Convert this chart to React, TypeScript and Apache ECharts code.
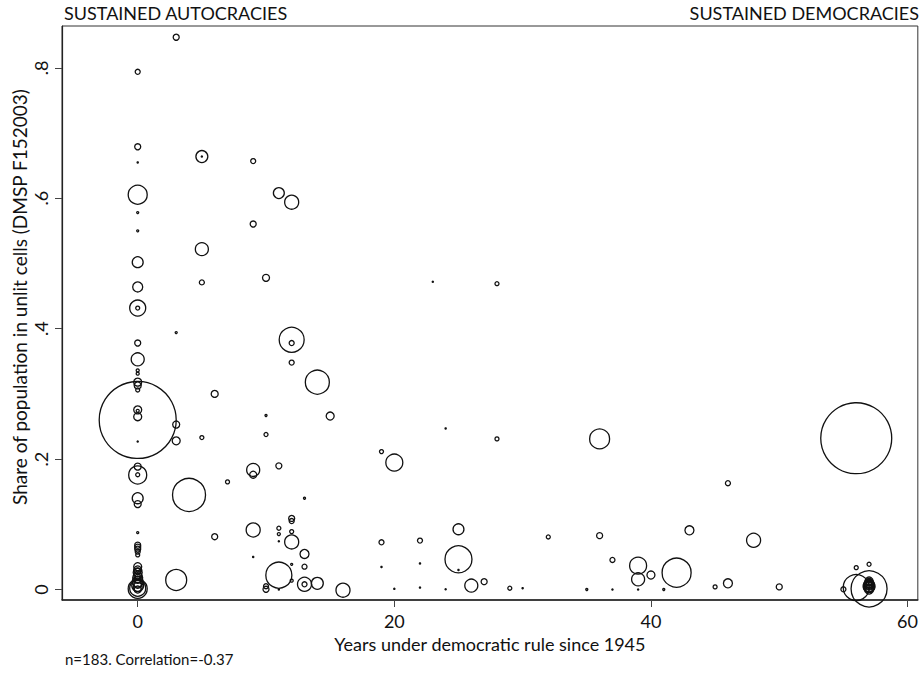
import React, { useEffect, useRef } from "react";
import * as echarts from "echarts";

// Years under democratic rule since 1945
const years: number[] = [
  0, 0, 0, 0, 0, 0, 0, 0, 0, 0, 0, 0, 0, 0, 0, 0, 0, 0, 0, 0, 0, 0, 0, 0, 0, 0, 0, 0, 0, 0, 0, 0, 0, 0, 0, 0, 0, 0, 0, 0, 0, 0, 0, 0, 0, 0, 0, 0,
  3, 3, 3, 3, 3,
  4,
  5, 5, 5, 5, 5,
  6, 6,
  7,
  9, 9, 9, 9, 9, 9,
  10, 10, 10, 10, 10,
  11, 11, 11, 11, 11, 11, 11,
  12, 12, 12, 12, 12, 12, 12, 12, 12, 12,
  13, 13, 13, 13, 13,
  14, 14,
  15,
  16,
  19, 19, 19,
  20, 20,
  22, 22, 22,
  23,
  24, 24,
  25, 25, 25,
  26, 27, 28, 28, 29, 30, 32, 35,
  36, 36,
  37, 37,
  39, 39, 39,
  40, 41, 42, 43, 45,
  46, 46,
  48, 50, 55,
  56, 56, 56,
  57, 57, 57, 57, 57, 57, 57, 57, 57, 57, 57, 57, 57, 57,
];

// Share of population in unlit cells (DMSP F152003)
const unlitShare: number[] = [
  0.794, 0.679, 0.655, 0.6055, 0.578, 0.55, 0.502, 0.464, 0.4316, 0.4316, 0.378, 0.353, 0.336, 0.331, 0.318, 0.313, 0.306, 0.2755, 0.274, 0.265, 0.26, 0.227,
  0.1885, 0.1757, 0.176, 0.14, 0.131, 0.0872, 0.068, 0.065, 0.062, 0.058, 0.053, 0.035, 0.03, 0.026, 0.022, 0.018, 0.015, 0.012, 0.008, 0.006, 0.004, 0.002, 0.001, 0.0, 0.02, 0.028,
  0.847, 0.394, 0.253, 0.228, 0.0146,
  0.145,
  0.664, 0.664, 0.522, 0.471, 0.233,
  0.3, 0.081,
  0.165,
  0.657, 0.5605, 0.1834, 0.176, 0.0913, 0.05,
  0.478, 0.2668, 0.2377, 0.005, 0.0003,
  0.608, 0.1896, 0.094, 0.085, 0.074, 0.022, 0.0,
  0.594, 0.383, 0.378, 0.348, 0.109, 0.105, 0.0888, 0.073, 0.0386, 0.0136,
  0.14, 0.0545, 0.035, 0.008, 0.008,
  0.318, 0.0095,
  0.266,
  -0.001,
  0.2115, 0.0724, 0.0346,
  0.1946, 0.001,
  0.075, 0.04, 0.003,
  0.472,
  0.247, 0.0004,
  0.0924, 0.0463, 0.03,
  0.006, 0.012, 0.469, 0.231, 0.002, 0.002, 0.0806, 0.0,
  0.231, 0.0826,
  0.0453, 0.0,
  0.0366, 0.0156, 0.0,
  0.0222, 0.0, 0.0258, 0.0908, 0.004,
  0.163, 0.0095,
  0.0755, 0.004, 0.0003,
  0.232, 0.0335, 0.003,
  0.0387, 0.001, 0.013, 0.01, 0.008, 0.006, 0.004, 0.002, 0.011, 0.007, 0.003, 0.0, 0.005, 0.009,
];

// Population weight (millions) -> marker area
const population: number[] = [
  5.5, 7.9, 0.3, 79, 0.9, 0.9, 26, 22, 56, 3.5, 7.9, 37, 2, 2, 14, 10.7, 3.5, 14, 2, 14, 1295, 0.3,
  10.7, 71, 3.5, 26, 10.7, 0.9, 7.9, 7.9, 7.9, 5.5, 3.5, 14, 14, 17.7, 14, 21.8, 10.7, 26, 14, 31, 17.7, 56, 79, 10.7, 5.5, 7.9,
  7.9, 0.9, 10.7, 14, 96,
  238,
  31, 0.3, 37, 5.5, 3.5,
  10.7, 7.9,
  3.5,
  5.5, 7.9, 37, 10.7, 43, 0.3,
  10.7, 0.9, 3.5, 5.5, 7.9,
  26, 7.9, 3.5, 2, 0.3, 148, 0.3,
  43, 136, 5.5, 5.5, 7.9, 5.5, 3.5, 43, 0.9, 2,
  0.9, 17.7, 5.5, 43, 5.5,
  126, 31,
  14,
  43,
  3.5, 5.5, 0.3,
  63, 0.3,
  5.5, 0.3, 0.3,
  0.3,
  0.3, 0.3,
  26, 159, 0.3,
  37, 7.9, 3.5, 3.5, 3.5, 0.3, 3.5, 0.9,
  87, 7.9,
  5.5, 0.3,
  63, 37, 0.3,
  14, 0.9, 184, 17.7, 3.5,
  5.5, 17.7,
  43, 7.9, 5.5,
  1100, 3.5, 148,
  3.5, 283, 14, 17.7, 21.8, 17.7, 26, 14, 10.7, 10.7, 21.8, 17.7, 31, 14,
];

const xTicks: number[] = [0, 20, 40, 60];
const yTicks: number[] = [0, 0.2, 0.4, 0.6, 0.8];

const FONT = "Lato, 'Open Sans', sans-serif";
const INK = "#111";

export default function App() {
  const ref = useRef<HTMLDivElement>(null);

  useEffect(() => {
    if (!ref.current) return;
    const chart = echarts.init(ref.current, undefined, { renderer: "svg" });
    const data = years.map((x, i) => [x, unlitShare[i], population[i]]);
    chart.setOption({
      animation: false,
      backgroundColor: "#fff",
      grid: {
        left: 62,
        top: 26,
        width: 857,
        height: 574,
        show: true,
        borderColor: "#333",
        borderWidth: 1,
      },
      xAxis: {
        type: "value",
        min: -5.9,
        max: 60.8,
        name: "Years under democratic rule since 1945",
        nameLocation: "middle",
        nameGap: 33,
        nameTextStyle: { fontFamily: FONT, fontSize: 18, color: INK },
        axisLine: { show: true, onZero: false, lineStyle: { color: "#222", width: 1.5 } },
        axisTick: {
          show: true,
          length: 7,
          customValues: xTicks,
          lineStyle: { color: "#444" },
        },
        axisLabel: {
          customValues: xTicks,
          fontFamily: FONT,
          fontSize: 18,
          color: INK,
          margin: 12,
        },
        splitLine: { show: false },
      },
      yAxis: {
        type: "value",
        min: -0.0161,
        max: 0.8642,
        axisLine: { show: true, onZero: false, lineStyle: { color: "#222", width: 1.2 } },
        axisTick: {
          show: true,
          length: 7,
          customValues: yTicks,
          lineStyle: { color: "#444" },
        },
        axisLabel: {
          customValues: yTicks,
          rotate: 90,
          fontFamily: FONT,
          fontSize: 18,
          color: INK,
          margin: 12,
          formatter: (v: number) => (v === 0 ? "0" : String(Number(v.toFixed(1))).replace(/^0/, "")),
        },
        splitLine: { show: false },
      },
      graphic: [
        {
          type: "text",
          left: 64,
          top: 4,
          style: { text: "SUSTAINED AUTOCRACIES", font: `18px ${FONT}`, fill: INK },
        },
        {
          type: "text",
          right: 2,
          top: 4,
          style: { text: "SUSTAINED DEMOCRACIES", font: `18px ${FONT}`, fill: INK },
        },
        {
          type: "text",
          x: 19,
          y: 297,
          rotation: Math.PI / 2,
          style: {
            text: "Share of population in unlit cells (DMSP F152003)",
            font: `19px ${FONT}`,
            fill: INK,
            align: "center",
            verticalAlign: "middle",
          },
        },
        {
          type: "text",
          left: 65,
          top: 651,
          style: { text: "n=183. Correlation=-0.37", font: `15px ${FONT}`, fill: INK },
        },
      ],
      series: [
        {
          type: "scatter",
          data,
          silent: true,
          symbol: "circle",
          symbolSize: (v: number[]) => Math.max(1.2, 2.14 * Math.sqrt(v[2])),
          itemStyle: { color: "rgba(0,0,0,0)", borderColor: "#111", borderWidth: 1.3, opacity: 1 },
          emphasis: { disabled: true },
        },
      ],
    });
    return () => chart.dispose();
  }, []);

  return <div ref={ref} style={{ width: 921, height: 673, position: "absolute", left: 0, top: 0 }} />;
}
